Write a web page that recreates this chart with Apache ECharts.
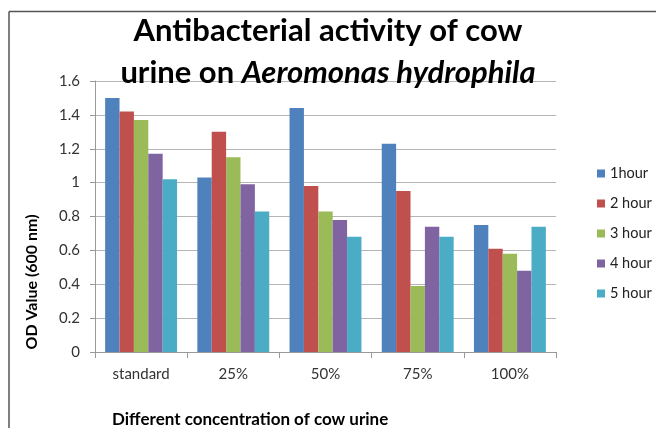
<!DOCTYPE html>
<html>
<head>
<meta charset="utf-8">
<script src="https://cdn.jsdelivr.net/npm/echarts@6/dist/echarts.min.js"></script>
<style>
  html, body { margin: 0; padding: 0; background: #fff; }
  #chart { width: 656px; height: 428px; }
</style>
</head>
<body>
<div id="chart"></div>
<script>
// Concentrations of cow urine tested
const categories = ['standard', '25%', '50%', '75%', '100%'];

// OD readings (600 nm) at each incubation time
const seriesNames = ['1hour', '2 hour', '3 hour', '4 hour', '5 hour'];
const hour1 = [1.50, 1.03, 1.44, 1.23, 0.75];
const hour2 = [1.42, 1.30, 0.98, 0.95, 0.61];
const hour3 = [1.37, 1.15, 0.83, 0.39, 0.58];
const hour4 = [1.17, 0.99, 0.78, 0.74, 0.48];
const hour5 = [1.02, 0.83, 0.68, 0.68, 0.74];

// Value axis ticks
const yTicks = { min: 0, max: 1.6, step: 0.2 };

const palette = ['#4F81BD', '#C0504D', '#9BBB59', '#8064A2', '#4BACC6'];
const font = 'Lato, "Open Sans", sans-serif';

const chart = echarts.init(document.getElementById('chart'), null, { renderer: 'canvas' });

const values = [hour1, hour2, hour3, hour4, hour5];

chart.setOption({
  animation: false,
  color: palette,
  textStyle: { fontFamily: font },
  title: {
    left: 'center',
    top: 5,
    text: '{n|Antibacterial activity of cow}\n{n|urine on }{i|Aeromonas hydrophila}',
    textStyle: {
      rich: {
        n: { fontSize: 31, fontWeight: 'bold', color: '#000', fontFamily: font, lineHeight: 42 },
        i: { fontSize: 31, fontWeight: 'bold', fontStyle: 'italic', color: '#000', fontFamily: font, lineHeight: 42 }
      }
    }
  },
  grid: { left: 95, right: 100, top: 81, bottom: 76, containLabel: false },
  legend: {
    orient: 'vertical',
    left: 597,
    top: 166,
    padding: 0,
    icon: 'rect',
    itemWidth: 8,
    itemHeight: 8,
    itemGap: 15,
    textStyle: { fontSize: 14.5, color: '#222', fontFamily: font },
    data: seriesNames
  },
  xAxis: {
    type: 'category',
    data: categories,
    axisLine: { lineStyle: { color: '#999', width: 1 } },
    axisTick: { show: true, length: 6, lineStyle: { color: '#999' } },
    axisLabel: { color: '#333', fontSize: 15, margin: 15, fontFamily: font }
  },
  yAxis: {
    type: 'value',
    min: yTicks.min,
    max: yTicks.max,
    interval: yTicks.step,
    axisLine: { show: true, lineStyle: { color: '#999', width: 1 } },
    axisTick: { show: true, length: 5, lineStyle: { color: '#999' } },
    axisLabel: { color: '#333', fontSize: 15, margin: 15, fontFamily: font },
    splitLine: { lineStyle: { color: '#b5b5b5', width: 1 } }
  },
  series: seriesNames.map((name, i) => ({
    name: name,
    type: 'bar',
    data: values[i],
    barGap: '0%',
    barCategoryGap: '22%',
    itemStyle: { color: palette[i] }
  })),
  graphic: [
    // chart area frame (top and left edges)
    { type: 'line', shape: { x1: 9, y1: 11.5, x2: 656, y2: 11.5 }, style: { stroke: '#555', lineWidth: 1.5 } },
    { type: 'line', shape: { x1: 9, y1: 11.5, x2: 9, y2: 428 }, style: { stroke: '#555', lineWidth: 1.5 } },
    {
      type: 'text',
      x: 32, y: 282,
      rotation: Math.PI / 2,
      style: {
        text: 'OD Value (600 nm)',
        fontSize: 16, fontWeight: 'bold', fontFamily: font, fill: '#000',
        align: 'center', verticalAlign: 'middle'
      }
    },
    {
      type: 'text',
      x: 112, y: 420,
      style: {
        text: 'Different concentration of cow urine',
        fontSize: 17, fontWeight: 'bold', fontFamily: font, fill: '#000',
        align: 'left', verticalAlign: 'middle'
      }
    }
  ]
});
</script>
</body>
</html>
